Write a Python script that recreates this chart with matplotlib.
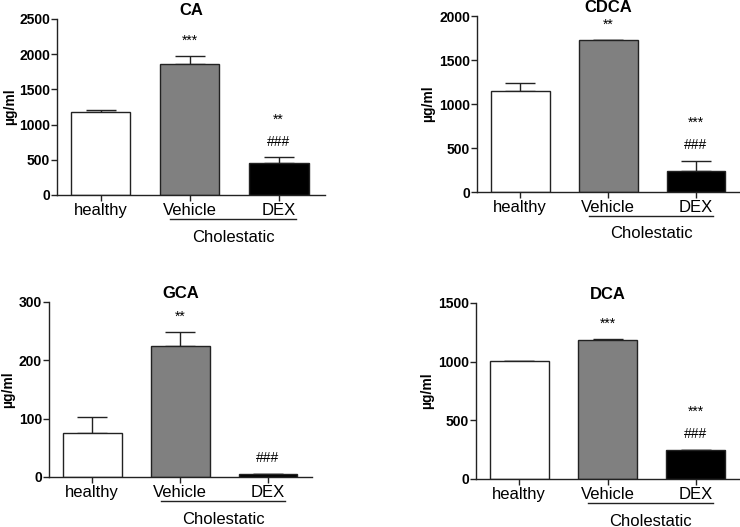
import matplotlib
matplotlib.use("Agg")
import matplotlib.pyplot as plt
import matplotlib.transforms as mtransforms

plt.rcParams['font.family'] = ['Liberation Sans', 'DejaVu Sans']

# Data
groups = ["healthy", "Vehicle", "DEX"]
bar_colors = ["white", "#808080", "black"]

ca_mean = [1172, 1860, 451]
ca_sem = [33, 109, 85]
cdca_mean = [1152, 1723, 242]
cdca_sem = [83, 5, 114]
gca_mean = [76, 225, 6]
gca_sem = [27, 24, 0]
dca_mean = [1003, 1185, 247]
dca_sem = [4, 5, 3]

ca_stars = ["", "***", "**"]
cdca_stars = ["", "**", "***"]
gca_stars = ["", "**", ""]
dca_stars = ["", "***", "***"]
ca_hash = ["", "", "###"]
cdca_hash = ["", "", "###"]
gca_hash = ["", "", "###"]
dca_hash = ["", "", "###"]

W, H = 740, 527
fig = plt.figure(figsize=(W / 100, H / 100), dpi=100)

# (title, means, sems, stars, hashes, ymax, ystep, (left, right, top, bottom) px, ylabel offset px, xmax)
panels = [
    ("CA", ca_mean, ca_sem, ca_stars, ca_hash, 2500, 500, (57, 325, 19, 195), -47, 2.52),
    ("CDCA", cdca_mean, cdca_sem, cdca_stars, cdca_hash, 2000, 500, (477, 740, 16, 192), -49, 2.5),
    ("GCA", gca_mean, gca_sem, gca_stars, gca_hash, 300, 100, (49, 312, 302, 477), -41, 2.5),
    ("DCA", dca_mean, dca_sem, dca_stars, dca_hash, 1500, 500, (476, 740, 303, 479), -49, 2.5),
]

edge = "#222222"
xs = [0, 1, 2]

for title, means, sems, stars, hashes, ymax, ystep, box, ylab_off, xmax in panels:
    l, r, t, b = box
    ax = fig.add_axes([l / W, (H - b) / H, (r - l) / W, (b - t) / H])
    ax.bar(xs, means, width=0.67, color=bar_colors, edgecolor=edge, linewidth=1.0, zorder=2)
    ax.errorbar(xs, means, yerr=[[0, 0, 0], sems], fmt='none', ecolor=edge,
                elinewidth=1.0, capsize=11, capthick=1.0, zorder=1)
    ax.set_xlim(-0.49, xmax)
    ax.set_ylim(0, ymax)
    ax.set_yticks(range(0, ymax + 1, ystep))
    ax.set_xticks(xs)
    ax.set_xticklabels(groups, fontsize=12)
    for lab in ax.get_yticklabels():
        lab.set_fontweight('bold')
        lab.set_fontsize(10)
    ax.tick_params(axis='y', length=4, width=1, color=edge, pad=1)
    ax.tick_params(axis='x', length=4, width=1, color=edge, pad=2)
    for s in ['top', 'right']:
        ax.spines[s].set_visible(False)
    for s in ['left', 'bottom']:
        ax.spines[s].set_color(edge)
        ax.spines[s].set_linewidth(1.0)
    ax.set_title(title, fontsize=12, fontweight='bold', pad=3)
    ax.set_ylabel("µg/ml", fontsize=10, fontweight='bold', va='center')
    ax.yaxis.set_label_coords(ylab_off / (r - l), 0.5)

    # significance markers
    for x, m, e, st, hs in zip(xs, means, sems, stars, hashes):
        marks = [s for s in [hs, st] if s]
        for k, txt in enumerate(marks):
            ax.annotate(txt, xy=(x, m + e), xytext=(0, 11 + 16 * k),
                        textcoords='offset points', ha='center', va='center',
                        fontsize=10, color='black')

    # Cholestatic group line
    trans = ax.get_xaxis_transform()
    line_tr = trans + mtransforms.ScaledTranslation(0, -24 / 100, fig.dpi_scale_trans)
    ax.plot([0.78, 2.19], [0, 0], color=edge, linewidth=1.0, transform=line_tr, clip_on=False)
    text_tr = trans + mtransforms.ScaledTranslation(0, -42 / 100, fig.dpi_scale_trans)
    ax.text(1.49, 0, "Cholestatic", fontsize=12, ha='center', va='center', transform=text_tr)

fig.savefig("out.png", dpi=100)
